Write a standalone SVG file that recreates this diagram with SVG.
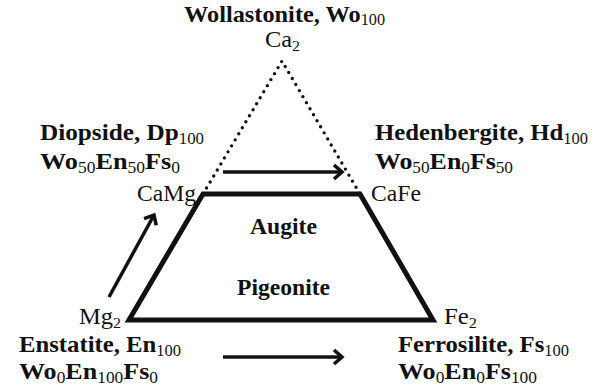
<svg xmlns="http://www.w3.org/2000/svg" width="600" height="388" viewBox="0 0 600 388">
  <style>
    .b { font-family: "Liberation Serif", "Times New Roman", "DejaVu Serif", serif; font-weight: bold; font-size: 24px; fill: #111; }
    .r { font-family: "Liberation Serif", "Times New Roman", "DejaVu Serif", serif; font-size: 23px; fill: #111; }
    .s { font-weight: normal; font-size: 16px; }
    .rs { font-size: 15px; }
    .trap { fill: none; stroke: #111; stroke-width: 5; stroke-linejoin: miter; }
    .dot { fill: none; stroke: #111; stroke-width: 3.4; stroke-linecap: round; stroke-dasharray: 0 7; }
    .arrow { fill: none; stroke: #111; stroke-width: 3.5; }
  </style>
  <defs>
    <marker id="chev" markerUnits="userSpaceOnUse" markerWidth="16" markerHeight="18" refX="10" refY="8" orient="auto">
      <path d="M2,1 L10,8 L2,15" fill="none" stroke="#111" stroke-width="3.5"/>
    </marker>
  </defs>

  <g id="connectors">
    <path class="dot" d="M203,194 L282,61 L360,194"/>
    <line class="arrow" x1="223" y1="172" x2="342" y2="172" marker-end="url(#chev)"/>
    <line class="arrow" x1="223" y1="357" x2="342" y2="357" marker-end="url(#chev)"/>
    <line class="arrow" x1="109" y1="297" x2="154" y2="215" marker-end="url(#chev)"/>
  </g>

  <g id="quadrilateral">
    <polygon class="trap" points="129,320 203,194 360,194 433,320"/>
  </g>

  <g id="wollastonite">
    <text class="b" x="184" y="22" textLength="201" lengthAdjust="spacingAndGlyphs">Wollastonite, Wo<tspan class="s" dy="3">100</tspan></text>
    <text class="r" x="265" y="47" textLength="35" lengthAdjust="spacingAndGlyphs">Ca<tspan class="rs" dy="4">2</tspan></text>
  </g>

  <g id="diopside">
    <text class="b" x="40" y="140" textLength="164" lengthAdjust="spacingAndGlyphs">Diopside, Dp<tspan class="s" dy="4">100</tspan></text>
    <text class="b" x="40" y="169" textLength="140" lengthAdjust="spacingAndGlyphs">Wo<tspan class="s" dy="4">50</tspan><tspan dy="-4">En</tspan><tspan class="s" dy="4">50</tspan><tspan dy="-4">Fs</tspan><tspan class="s" dy="4">0</tspan></text>
    <text class="r" x="137" y="201" textLength="59" lengthAdjust="spacingAndGlyphs">CaMg</text>
  </g>

  <g id="hedenbergite">
    <text class="b" x="375" y="140" textLength="213" lengthAdjust="spacingAndGlyphs">Hedenbergite, Hd<tspan class="s" dy="4">100</tspan></text>
    <text class="b" x="375" y="169" textLength="138" lengthAdjust="spacingAndGlyphs">Wo<tspan class="s" dy="4">50</tspan><tspan dy="-4">En</tspan><tspan class="s" dy="4">0</tspan><tspan dy="-4">Fs</tspan><tspan class="s" dy="4">50</tspan></text>
    <text class="r" x="371" y="201" textLength="50" lengthAdjust="spacingAndGlyphs">CaFe</text>
  </g>

  <g id="augite">
    <text class="b" x="250" y="234" textLength="67" lengthAdjust="spacingAndGlyphs">Augite</text>
  </g>

  <g id="pigeonite">
    <text class="b" x="237" y="295" textLength="93" lengthAdjust="spacingAndGlyphs">Pigeonite</text>
  </g>

  <g id="enstatite">
    <text class="r" x="79" y="324" textLength="42" lengthAdjust="spacingAndGlyphs">Mg<tspan class="rs" dy="4">2</tspan></text>
    <text class="b" x="19" y="352" textLength="162" lengthAdjust="spacingAndGlyphs">Enstatite, En<tspan class="s" dy="4">100</tspan></text>
    <text class="b" x="19" y="379" textLength="139" lengthAdjust="spacingAndGlyphs">Wo<tspan class="s" dy="4">0</tspan><tspan dy="-4">En</tspan><tspan class="s" dy="4">100</tspan><tspan dy="-4">Fs</tspan><tspan class="s" dy="4">0</tspan></text>
  </g>

  <g id="ferrosilite">
    <text class="r" x="444" y="324" textLength="33" lengthAdjust="spacingAndGlyphs">Fe<tspan class="rs" dy="4">2</tspan></text>
    <text class="b" x="398" y="352" textLength="171" lengthAdjust="spacingAndGlyphs">Ferrosilite, Fs<tspan class="s" dy="4">100</tspan></text>
    <text class="b" x="398" y="379" textLength="139" lengthAdjust="spacingAndGlyphs">Wo<tspan class="s" dy="4">0</tspan><tspan dy="-4">En</tspan><tspan class="s" dy="4">0</tspan><tspan dy="-4">Fs</tspan><tspan class="s" dy="4">100</tspan></text>
  </g>
</svg>
